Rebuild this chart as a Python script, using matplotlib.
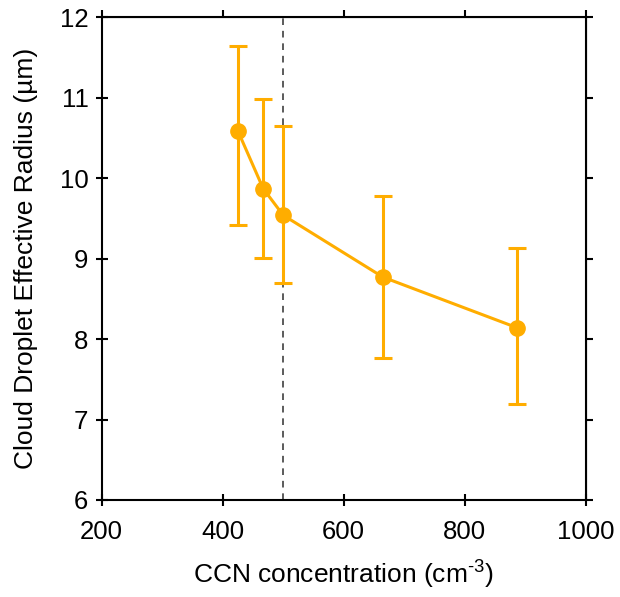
import numpy as np
import matplotlib.pyplot as plt

plt.rcParams['font.family'] = ['Liberation Sans', 'DejaVu Sans']
plt.rcParams['mathtext.fontset'] = 'custom'
plt.rcParams['mathtext.rm'] = 'Liberation Sans'

# CCN concentration (cm-3) and effective radius (um)
ccn = [425, 467, 500, 665, 887]
reff = [10.59, 9.87, 9.54, 8.77, 8.14]
err_low = [1.17, 0.86, 0.84, 1.01, 0.95]
err_high = [1.05, 1.11, 1.11, 1.01, 0.99]

xticks = [200, 400, 600, 800, 1000]
yticks = [6, 7, 8, 9, 10, 11, 12]

orange = '#FFAD00'

fig = plt.figure(figsize=(6.2, 5.97), dpi=100)
ax = fig.add_axes([0.164, 0.1625, 0.7807, 0.8085])

# reference line at 500 cm-3
ax.axvline(500, color='#404040', lw=1.2, ls=(0, (4, 3.5)), zorder=1)

ax.errorbar(ccn, reff, yerr=[err_low, err_high], color=orange, lw=2.2,
            marker='o', ms=11, elinewidth=2.2, capsize=6.5, capthick=2.2,
            zorder=3)

ax.set_xlim(200, 1000)
ax.set_ylim(6, 12)
ax.set_xticks(xticks)
ax.set_yticks(yticks)

for s in ax.spines.values():
    s.set_linewidth(1.5)

ax.tick_params(axis='both', which='major', direction='inout', length=9,
               width=1.5, labelsize=18.5)
ax.tick_params(axis='x', pad=10)
ax.tick_params(axis='y', pad=5)

# outward ticks on top and right, no labels
top = ax.secondary_xaxis('top')
top.set_xticks(xticks)
top.tick_params(direction='out', length=5, width=1.5, labeltop=False)
right = ax.secondary_yaxis('right')
right.set_yticks(yticks)
right.tick_params(direction='out', length=5, width=1.5, labelright=False)

ax.set_xlabel('CCN concentration (cm$^{\\text{-3}}$)', fontsize=19, labelpad=9)
ax.set_ylabel('Cloud Droplet Effective Radius (\u00b5m)', fontsize=19, labelpad=16)

fig.savefig('out.png', dpi=100)
